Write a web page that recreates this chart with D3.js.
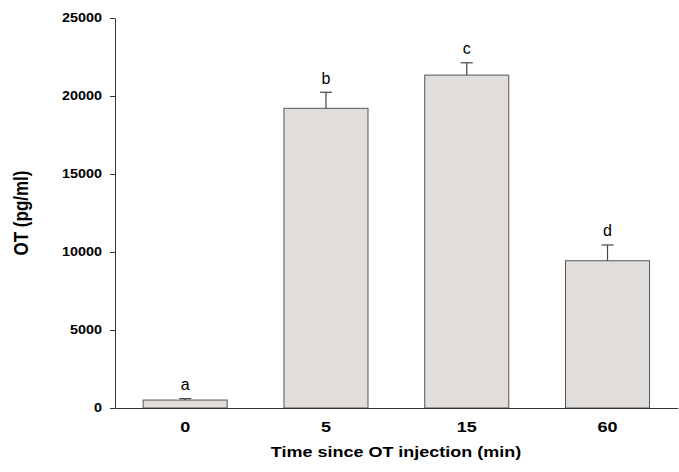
<!DOCTYPE html>
<html lang="en">
	<head>
		<meta charset="utf-8">
		<title>OT</title>
		<script type="text/javascript" src="https://cdn.jsdelivr.net/npm/d3@7"></script>
		<style type="text/css">
			body{
				margin: 0;
				background: #fff;
			}
			text{
				font-family: "Liberation Sans", Arial, sans-serif;
			}
		</style>
	</head>
	<body>
		<script type="text/javascript">

			// data
			var times = ["0", "5", "15", "60"];
			var means = [510, 19210, 21340, 9440];
			var errors = [90, 1030, 790, 1010];
			var letters = ["a", "b", "c", "d"];
			var yTicks = [0, 5000, 10000, 15000, 20000, 25000];

			var width = 679, height = 472;
			var stretch = 1.2;	// the original figure's text is widened horizontally

			var svg = d3.select("body")
						.append("svg")
						.attr("width", width)
						.attr("height", height);

			var x = d3.scaleBand()
						.domain(times)
						.range([115, 677.7])
						.paddingInner(0.403)
						.paddingOuter(0.2);

			var y = d3.scaleLinear()
						.domain([0, 25000])
						.range([408, 18]);

			//y axis
			var yAxis = svg.append("g")
						.attr("transform", "translate(115,0)")
						.call(d3.axisLeft(y).tickValues(yTicks).tickFormat(d3.format("d"))
							.tickSize(5).tickPadding(5.8).tickSizeOuter(0));
			yAxis.select(".domain").attr("stroke", "#333");
			yAxis.selectAll(".tick line").attr("stroke", "#333");
			yAxis.selectAll("text")
				.attr("font-size", 12)
				.attr("font-weight", "bold")
				.attr("fill", "#000")
				.attr("font-family", "Liberation Sans, Arial, sans-serif")
				.attr("transform", "scale(" + stretch + ",1)");

			//bars
			svg.selectAll(".bar")
				.data(times)
				.enter()
				.append("rect")
				.attr("class", "bar")
				.attr("x", function(d) {return x(d);})
				.attr("y", function(d, i) {return y(means[i]);})
				.attr("width", x.bandwidth())
				.attr("height", function(d, i) {return y(0) - y(means[i]);})
				.attr("fill", "#e1dddb")
				.attr("stroke", "#555")
				.attr("stroke-width", 1);

			//error bars (upper only)
			var eb = svg.append("g").attr("stroke", "#444").attr("stroke-width", 1.2);
			eb.selectAll(".ev")
				.data(times)
				.enter()
				.append("line")
				.attr("x1", function(d) {return x(d) + x.bandwidth() / 2;})
				.attr("x2", function(d) {return x(d) + x.bandwidth() / 2;})
				.attr("y1", function(d, i) {return y(means[i]);})
				.attr("y2", function(d, i) {return y(means[i] + errors[i]);});
			eb.selectAll(".ec")
				.data(times)
				.enter()
				.append("line")
				.attr("x1", function(d) {return x(d) + x.bandwidth() / 2 - 6;})
				.attr("x2", function(d) {return x(d) + x.bandwidth() / 2 + 6;})
				.attr("y1", function(d, i) {return y(means[i] + errors[i]);})
				.attr("y2", function(d, i) {return y(means[i] + errors[i]);});

			//x axis line, drawn over the bar bottoms
			var xAxis = svg.append("g")
						.attr("transform", "translate(0,408)")
						.call(d3.axisBottom(x).tickSize(0).tickPadding(13).tickSizeOuter(0));
			xAxis.select(".domain").attr("stroke", "#333");
			xAxis.selectAll("text")
				.attr("font-size", 15)
				.attr("font-weight", "bold")
				.attr("fill", "#000")
				.attr("font-family", "Liberation Sans, Arial, sans-serif")
				.attr("transform", "scale(" + stretch + ",1)");

			//significance letters
			svg.selectAll(".letter")
				.data(times)
				.enter()
				.append("text")
				.attr("class", "letter")
				.attr("x", function(d) {return x(d) + x.bandwidth() / 2;})
				.attr("y", function(d, i) {return y(means[i] + errors[i]) - 8.5;})
				.attr("text-anchor", "middle")
				.attr("font-size", 16)
				.attr("fill", "#000")
				.text(function(d, i) {return letters[i];});

			//axis titles
			svg.append("text")
				.attr("transform", "translate(396,457) scale(" + stretch + ",1)")
				.attr("text-anchor", "middle")
				.attr("font-size", 15)
				.attr("font-weight", "bold")
				.text("Time since OT injection (min)");

			svg.append("text")
				.attr("transform", "translate(28,213) scale(" + stretch + ",1) rotate(-90)")
				.attr("text-anchor", "middle")
				.attr("font-size", 17)
				.attr("font-weight", "bold")
				.text("OT (pg/ml)");

		</script>
	</body>
</html>
